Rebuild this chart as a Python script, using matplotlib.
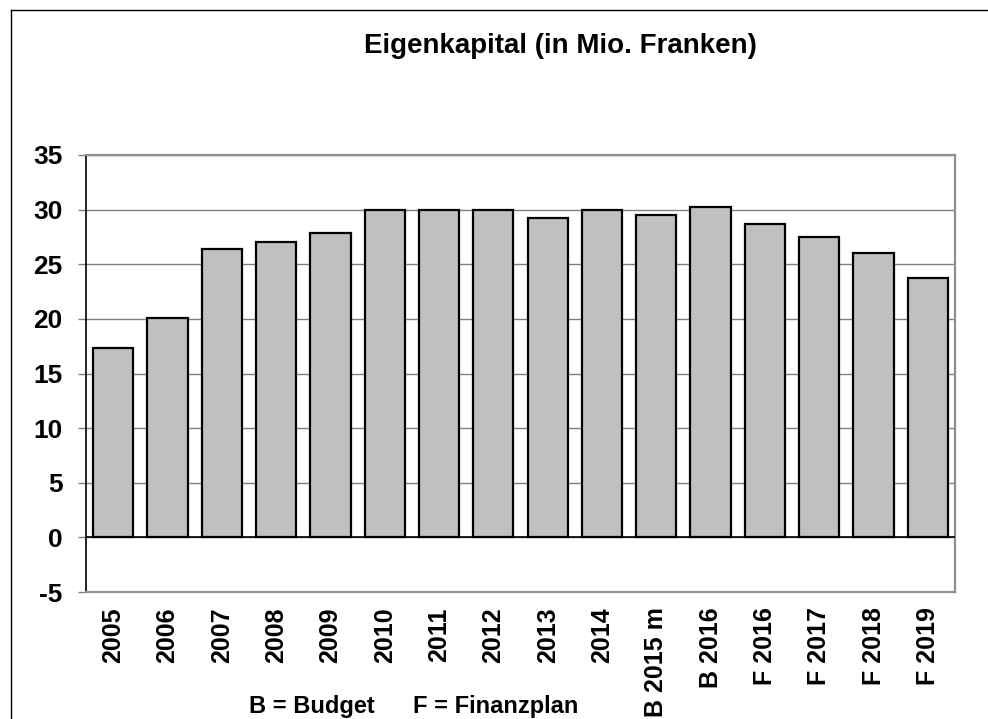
"""
Eigenkapital bar chart (in Mio. Franken)
"""
import matplotlib
matplotlib.use('Agg')
import matplotlib.pyplot as plt
from matplotlib.lines import Line2D

# Data
categories = ['2005', '2006', '2007', '2008', '2009', '2010', '2011', '2012',
              '2013', '2014', 'B 2015 m', 'B 2016', 'F 2016', 'F 2017',
              'F 2018', 'F 2019']
equity = [17.3, 20.1, 26.4, 27.0, 27.9, 30.0, 30.0, 30.0,
          29.2, 30.0, 29.5, 30.2, 28.7, 27.5, 26.0, 23.7]
y_ticks = [-5, 0, 5, 10, 15, 20, 25, 30, 35]

plt.rcParams['font.family'] = ['Liberation Sans', 'DejaVu Sans']
plt.rcParams['font.weight'] = 'bold'

W, H = 988, 719
fig = plt.figure(figsize=(W / 100, H / 100), dpi=100)
ax = fig.add_axes([86 / W, 1 - 592 / H, (955 - 86) / W, (592 - 155) / H])

x = range(len(categories))
ax.bar(x, equity, width=0.74, color='#c0c0c0', edgecolor='black',
       linewidth=1.6, zorder=3)

ax.set_xlim(-0.5, len(categories) - 0.5)
ax.set_ylim(-5, 35)
ax.set_yticks(y_ticks)
ax.set_yticklabels([str(t) for t in y_ticks], fontsize=19, weight='bold')
ax.set_xticks(list(x))
ax.set_xticklabels(categories, rotation=90, fontsize=18, weight='bold',
                   va='top', ha='center')
ax.tick_params(axis='x', length=0, pad=11)
ax.tick_params(axis='y', length=6, width=1, color='#808080', pad=11)

# gridlines and zero line
ax.grid(axis='y', color='#808080', linewidth=1, zorder=0)
ax.axhline(0, color='black', linewidth=1.2, zorder=4)

for side in ['top', 'right', 'bottom']:
    ax.spines[side].set_color('#909090')
    ax.spines[side].set_linewidth(1.6)
ax.spines['left'].set_color('black')
ax.spines['left'].set_linewidth(1.2)

fig.text(560 / W, 1 - 53 / H, 'Eigenkapital (in Mio. Franken)',
         ha='center', va='baseline', fontsize=20, weight='bold')
fig.text(249 / W, 1 - 713 / H, 'B = Budget',
         ha='left', va='baseline', fontsize=17, weight='bold')
fig.text(413 / W, 1 - 713 / H, 'F = Finanzplan',
         ha='left', va='baseline', fontsize=17, weight='bold')

# outer chart border (left and top edges visible)
fig.add_artist(Line2D([11 / W, 11 / W], [0, 1 - 10 / H], color='black',
                      linewidth=1, transform=fig.transFigure))
fig.add_artist(Line2D([11 / W, 1], [1 - 10 / H, 1 - 10 / H], color='black',
                      linewidth=1, transform=fig.transFigure))

fig.savefig('out.png', dpi=100)
